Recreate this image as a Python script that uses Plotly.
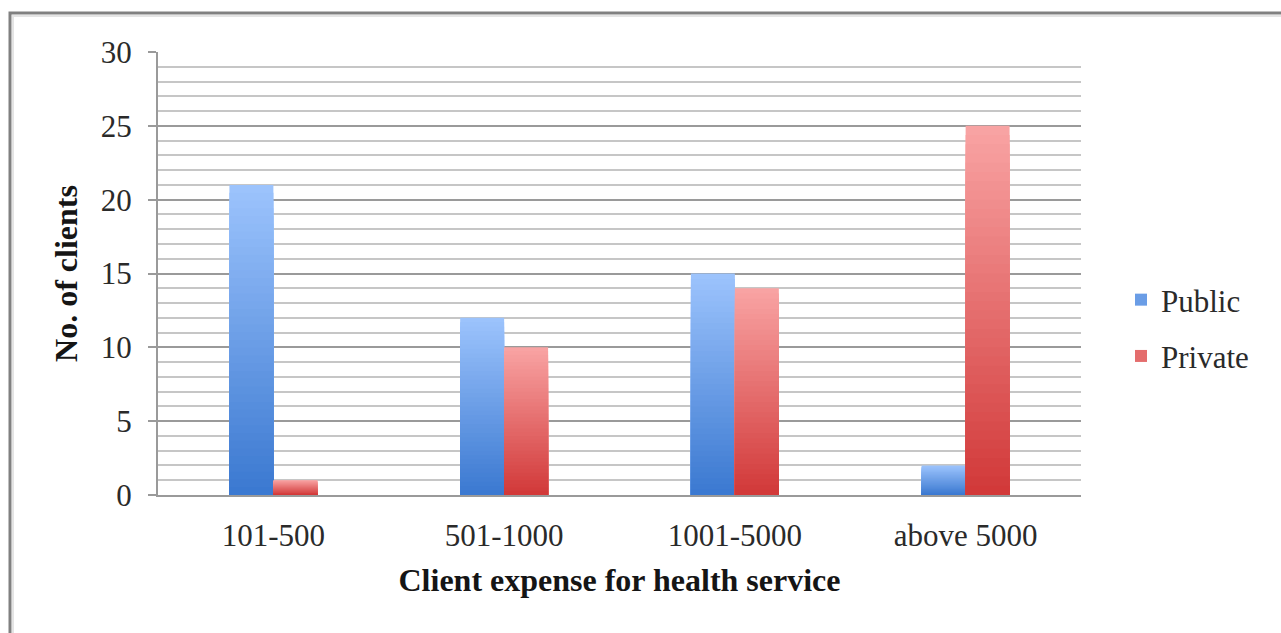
import plotly.graph_objects as go

# Client expense bands and number of clients per facility type
categories = ["101-500", "501-1000", "1001-5000", "above 5000"]
public_clients = [21, 12, 15, 2]
private_clients = [1, 10, 14, 25]

y_ticks = [0, 5, 10, 15, 20, 25, 30]

W, H = 1281, 633
L, R, T, B = 158, 200, 52, 138
PW, PH = W - L - R, H - T - B

SERIF = "Liberation Serif"
N_SLICES = 40


def mix(c1, c2, t):
    a = [int(c1[i:i + 2], 16) for i in (1, 3, 5)]
    b = [int(c2[i:i + 2], 16) for i in (1, 3, 5)]
    return "#" + "".join(f"{round(x + (y - x) * t):02x}" for x, y in zip(a, b))


def gradient_traces(name, values, bottom, top, group):
    """Overlay progressively shorter copies of each bar, light on top of the
    column down to dark at its base, so the bar reads as a vertical gradient."""
    traces = []
    for k in range(N_SLICES):
        frac = (N_SLICES - k) / N_SLICES
        t = (N_SLICES - k - 0.5) / N_SLICES
        traces.append(go.Bar(
            x=categories,
            y=[v * frac for v in values],
            name=name,
            marker=dict(color=mix(bottom, top, t), line=dict(width=0)),
            offsetgroup=group,
            legendgroup=group,
            showlegend=(k == N_SLICES // 2),
            hoverinfo="skip",
        ))
    return traces


fig = go.Figure()
for tr in gradient_traces("Public", public_clients, "#3a78d0", "#9dc4fd", "public"):
    fig.add_trace(tr)
for tr in gradient_traces("Private", private_clients, "#d13838", "#f9a4a4", "private"):
    fig.add_trace(tr)


def px_x(p):
    return (p - L) / PW


def px_y(p):
    return 1 - (p - T) / PH


# Outer frame of the figure panel
frame = [
    dict(type="rect", xref="paper", yref="paper",
         x0=px_x(10), x1=px_x(1300), y0=px_y(660), y1=px_y(13),
         line=dict(color="#808080", width=3), fillcolor="rgba(0,0,0,0)", layer="below"),
    dict(type="rect", xref="paper", yref="paper",
         x0=px_x(13), x1=px_x(1300), y0=px_y(660), y1=px_y(16),
         line=dict(color="#e4e4e4", width=2), fillcolor="rgba(0,0,0,0)", layer="below"),
]

TICK_FONT = dict(family=SERIF, size=31, color="#2a2a2a")
TITLE_FONT = dict(family=SERIF, size=32, color="#151515")

fig.update_layout(
    width=W, height=H,
    margin=dict(l=L, r=R, t=T, b=B, autoexpand=False),
    paper_bgcolor="white",
    plot_bgcolor="white",
    barmode="group",
    bargap=0.619,
    bargroupgap=0,
    shapes=frame,
    font=TICK_FONT,
    legend=dict(
        x=px_x(1121), xanchor="left",
        y=px_y(328), yanchor="middle",
        traceorder="grouped",
        tracegroupgap=13,
        font=TICK_FONT,
        bgcolor="rgba(0,0,0,0)",
    ),
    xaxis=dict(
        showline=True, linecolor="#9a9a9a", linewidth=2,
        ticks="", showgrid=False,
        ticklabelstandoff=12,
        tickfont=TICK_FONT,
        title=dict(text="<b>Client expense for health service</b>",
                   font=TITLE_FONT, standoff=16),
    ),
    yaxis=dict(
        range=[0, 30],
        tickvals=y_ticks,
        showline=True, linecolor="#9a9a9a", linewidth=2,
        ticks="outside", ticklen=8, tickwidth=2, tickcolor="#9a9a9a",
        ticklabelstandoff=10,
        showgrid=True, gridcolor="#9a9a9a", gridwidth=2,
        minor=dict(dtick=1, showgrid=True, gridcolor="#c6c6c6", gridwidth=2),
        zeroline=False,
        tickfont=TICK_FONT,
        title=dict(text="<b>No. of clients</b>", font=TITLE_FONT, standoff=14),
    ),
)

fig.write_html("out.html")
